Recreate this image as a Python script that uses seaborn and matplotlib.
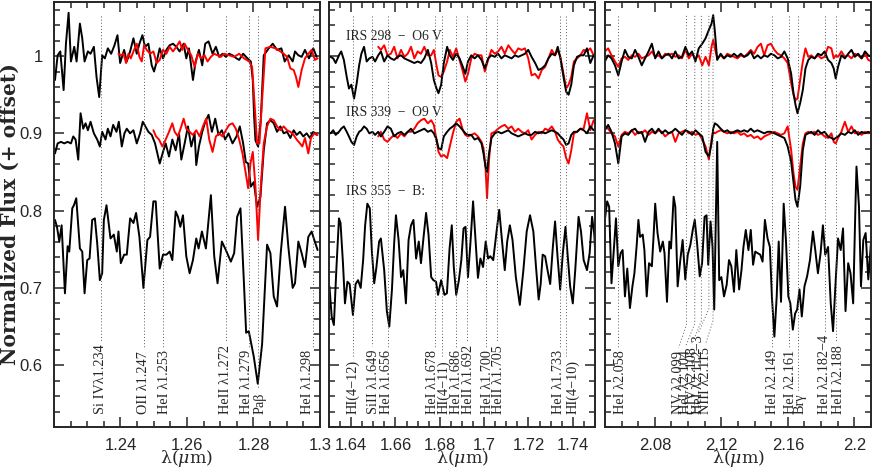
import matplotlib
matplotlib.use("Agg")
import matplotlib.pyplot as plt
import seaborn as sns
from matplotlib.ticker import MultipleLocator

# ---- J band panel (IRS 298 / 339 / 355 and models) ----
j_w298 = [1.2203, 1.2211, 1.2219, 1.2229, 1.2236, 1.2244, 1.2251, 1.2261, 1.2268, 1.2278,
          1.2285, 1.2292, 1.2302, 1.2310, 1.2320, 1.2328, 1.2336, 1.2345, 1.2353, 1.2362,
          1.2372, 1.2382, 1.2391, 1.2399, 1.2411, 1.2419, 1.2429, 1.2439, 1.2449, 1.2457,
          1.2466, 1.2474, 1.2484, 1.2494, 1.2501, 1.2509, 1.2518, 1.2528, 1.2538, 1.2548,
          1.2558, 1.2568, 1.2578, 1.2590, 1.2598, 1.2606, 1.2618, 1.2626, 1.2636, 1.2646,
          1.2655, 1.2665, 1.2677, 1.2687, 1.2697, 1.2707, 1.2717, 1.2727, 1.2737, 1.2749,
          1.2757, 1.2769, 1.2782, 1.2792, 1.2798, 1.2802, 1.2806, 1.2814, 1.2822, 1.2831,
          1.2846, 1.2858, 1.2871, 1.2884, 1.2894, 1.2906, 1.2918, 1.2925, 1.2935, 1.2945,
          1.2955, 1.2967, 1.2980, 1.2990]
j_f298 = [0.969, 1.001, 1.006, 0.956, 1.016, 1.056, 0.993, 1.012, 0.993, 1.042,
          1.023, 0.993, 1.006, 1.003, 1.012, 0.973, 0.947, 1.001, 0.997, 1.010,
          1.003, 1.014, 1.027, 0.991, 1.008, 0.993, 1.006, 1.023, 1.003, 1.016,
          1.027, 1.012, 1.016, 0.988, 0.980, 0.993, 1.010, 0.997, 1.008, 1.014,
          1.016, 1.012, 1.006, 1.016, 0.997, 1.010, 0.969, 0.993, 1.008, 0.988,
          1.016, 1.019, 1.003, 1.012, 0.999, 1.003, 0.999, 1.003, 1.001, 0.997,
          0.995, 1.003, 0.997, 0.993, 0.969, 0.922, 0.891, 0.883, 0.917, 1.001,
          1.010, 1.016, 1.008, 1.010, 0.993, 1.001, 0.993, 1.006, 1.001, 0.999,
          1.008, 0.997, 1.010, 0.999]
j_w298m = [1.2394, 1.2401, 1.2409, 1.2417, 1.2424, 1.2431, 1.2439, 1.2449, 1.2457, 1.2464,
           1.2471, 1.2479, 1.2489, 1.2499, 1.2509, 1.2518, 1.2528, 1.2538, 1.2548, 1.2558,
           1.2568, 1.2578, 1.2586, 1.2593, 1.2603, 1.2613, 1.2623, 1.2633, 1.2643, 1.2653,
           1.2662, 1.2672, 1.2682, 1.2692, 1.2702, 1.2712, 1.2727, 1.2742, 1.2757, 1.2772,
           1.2787, 1.2796, 1.2804, 1.2811, 1.2818, 1.2826, 1.2836, 1.2851, 1.2866, 1.2881,
           1.2891, 1.2901, 1.2911, 1.2921, 1.2928, 1.2935, 1.2945, 1.2955, 1.2965, 1.2975,
           1.2985, 1.2993]
j_f298m = [1.003, 1.001, 1.003, 0.991, 1.003, 0.997, 1.006, 1.016, 0.999, 0.993,
           1.014, 1.008, 1.003, 1.006, 0.991, 0.995, 1.008, 1.003, 1.012, 1.006,
           1.012, 1.019, 1.008, 1.016, 1.008, 1.001, 0.986, 1.003, 0.997, 1.001,
           0.993, 0.999, 1.003, 1.001, 0.999, 1.003, 1.001, 0.999, 1.003, 0.997,
           0.993, 0.986, 0.934, 0.887, 0.887, 0.943, 1.010, 1.012, 1.010, 1.006,
           1.003, 0.999, 0.984, 0.982, 0.973, 0.960, 0.982, 0.997, 1.003, 1.008,
           0.995, 0.997]
j_w339 = [1.2203, 1.2211, 1.2221, 1.2231, 1.2241, 1.2251, 1.2258, 1.2265, 1.2273, 1.2280,
          1.2288, 1.2295, 1.2302, 1.2310, 1.2320, 1.2330, 1.2338, 1.2345, 1.2355, 1.2362,
          1.2370, 1.2378, 1.2388, 1.2395, 1.2404, 1.2412, 1.2419, 1.2429, 1.2439, 1.2449,
          1.2459, 1.2467, 1.2475, 1.2484, 1.2494, 1.2504, 1.2511, 1.2518, 1.2528, 1.2536,
          1.2546, 1.2556, 1.2566, 1.2576, 1.2583, 1.2593, 1.2603, 1.2613, 1.2623, 1.2628,
          1.2636, 1.2646, 1.2655, 1.2665, 1.2675, 1.2685, 1.2695, 1.2705, 1.2715, 1.2725,
          1.2737, 1.2749, 1.2759, 1.2769, 1.2777, 1.2784, 1.2792, 1.2801, 1.2811, 1.2821,
          1.2831, 1.2841, 1.2851, 1.2861, 1.2871, 1.2881, 1.2891, 1.2901, 1.2911, 1.2921,
          1.2930, 1.2940, 1.2950, 1.2960, 1.2970, 1.2980, 1.2990]
j_f339 = [0.874, 0.887, 0.889, 0.887, 0.889, 0.887, 0.896, 0.892, 0.866, 0.926,
          0.906, 0.913, 0.904, 0.915, 0.900, 0.892, 0.883, 0.902, 0.892, 0.906,
          0.896, 0.911, 0.902, 0.915, 0.883, 0.900, 0.906, 0.900, 0.904, 0.887,
          0.900, 0.915, 0.909, 0.902, 0.898, 0.887, 0.874, 0.861, 0.876, 0.887,
          0.870, 0.892, 0.878, 0.900, 0.866, 0.887, 0.909, 0.883, 0.900, 0.859,
          0.883, 0.902, 0.915, 0.924, 0.902, 0.919, 0.898, 0.904, 0.892, 0.900,
          0.887, 0.896, 0.909, 0.887, 0.863, 0.861, 0.831, 0.837, 0.805, 0.818,
          0.878, 0.913, 0.917, 0.913, 0.902, 0.909, 0.900, 0.902, 0.894, 0.904,
          0.898, 0.902, 0.896, 0.900, 0.894, 0.902, 0.898]
j_w339m = [1.2499, 1.2507, 1.2516, 1.2526, 1.2536, 1.2546, 1.2556, 1.2563, 1.2573, 1.2583,
           1.2590, 1.2598, 1.2608, 1.2618, 1.2628, 1.2638, 1.2648, 1.2658, 1.2667, 1.2677,
           1.2687, 1.2697, 1.2707, 1.2717, 1.2727, 1.2737, 1.2747, 1.2757, 1.2767, 1.2777,
           1.2784, 1.2791, 1.2798, 1.2806, 1.2814, 1.2822, 1.2831, 1.2841, 1.2851, 1.2861,
           1.2871, 1.2881, 1.2891, 1.2901, 1.2911, 1.2921, 1.2930, 1.2940, 1.2947, 1.2955,
           1.2965, 1.2973, 1.2983, 1.2993]
j_f339m = [0.904, 0.896, 0.892, 0.883, 0.892, 0.902, 0.913, 0.902, 0.896, 0.909,
           0.919, 0.906, 0.902, 0.898, 0.904, 0.896, 0.909, 0.919, 0.892, 0.876,
           0.896, 0.900, 0.896, 0.904, 0.911, 0.913, 0.906, 0.892, 0.874, 0.848,
           0.829, 0.861, 0.876, 0.831, 0.762, 0.831, 0.887, 0.909, 0.919, 0.917,
           0.909, 0.904, 0.909, 0.904, 0.902, 0.898, 0.892, 0.887, 0.883, 0.894,
           0.874, 0.894, 0.900, 0.898]
j_w355 = [1.2203, 1.2209, 1.2216, 1.2223, 1.2233, 1.2241, 1.2246, 1.2255, 1.2260, 1.2267,
          1.2278, 1.2285, 1.2292, 1.2300, 1.2307, 1.2315, 1.2323, 1.2330, 1.2338, 1.2345,
          1.2350, 1.2358, 1.2370, 1.2380, 1.2389, 1.2394, 1.2401, 1.2411, 1.2419, 1.2429,
          1.2439, 1.2447, 1.2457, 1.2469, 1.2481, 1.2489, 1.2499, 1.2506, 1.2518, 1.2528,
          1.2538, 1.2548, 1.2556, 1.2566, 1.2573, 1.2580, 1.2588, 1.2598, 1.2608, 1.2618,
          1.2628, 1.2635, 1.2645, 1.2657, 1.2672, 1.2682, 1.2692, 1.2705, 1.2717, 1.2732,
          1.2742, 1.2751, 1.2761, 1.2771, 1.2778, 1.2786, 1.2801, 1.2813, 1.2826, 1.2841,
          1.2851, 1.2861, 1.2871, 1.2882, 1.2895, 1.2905, 1.2918, 1.2925, 1.2935, 1.2945,
          1.2955, 1.2965, 1.2975, 1.2980, 1.2993]
j_f355 = [0.788, 0.779, 0.760, 0.781, 0.693, 0.754, 0.747, 0.803, 0.807, 0.816,
          0.751, 0.747, 0.693, 0.736, 0.738, 0.788, 0.790, 0.758, 0.710, 0.719,
          0.788, 0.807, 0.764, 0.769, 0.747, 0.773, 0.732, 0.743, 0.743, 0.790,
          0.784, 0.797, 0.766, 0.700, 0.762, 0.766, 0.812, 0.812, 0.725, 0.743,
          0.743, 0.747, 0.736, 0.799, 0.792, 0.779, 0.794, 0.741, 0.719, 0.736,
          0.764, 0.751, 0.773, 0.751, 0.820, 0.741, 0.706, 0.760, 0.749, 0.734,
          0.745, 0.792, 0.803, 0.710, 0.642, 0.644, 0.611, 0.576, 0.627, 0.756,
          0.745, 0.689, 0.676, 0.745, 0.805, 0.753, 0.700, 0.706, 0.760, 0.745,
          0.727, 0.766, 0.773, 0.766, 0.749]

# ---- H band panel ----
h_wave = [1.6307, 1.6319, 1.6330, 1.6345, 1.6355, 1.6367, 1.6380, 1.6390, 1.6401, 1.6413,
          1.6425, 1.6436, 1.6446, 1.6458, 1.6470, 1.6482, 1.6496, 1.6508,
          1.6522, 1.6534, 1.6549, 1.6564, 1.6579, 1.6594, 1.6609, 1.6625, 1.6640, 1.6655,
          1.6670, 1.6685, 1.6700, 1.6715, 1.6730, 1.6746, 1.6761,
          1.6773, 1.6785, 1.6794, 1.6806, 1.6818,
          1.6833, 1.6845, 1.6859, 1.6874, 1.6889, 1.6904, 1.6915, 1.6927,
          1.6942, 1.6957, 1.6972, 1.6988, 1.7003, 1.7018, 1.7033, 1.7048, 1.7063, 1.7078,
          1.7093, 1.7109, 1.7124, 1.7139, 1.7154, 1.7169, 1.7184, 1.7199, 1.7214, 1.7230,
          1.7245, 1.7260, 1.7275, 1.7290, 1.7305, 1.7320,
          1.7332, 1.7344, 1.7358, 1.7370, 1.7381, 1.7393, 1.7405,
          1.7419, 1.7434, 1.7449, 1.7464, 1.7479, 1.7494, 1.7509]
h_f298 = [0.999, 0.997, 0.991, 1.001, 1.006, 0.995, 0.973, 0.958, 0.963, 0.945,
          0.965, 0.988, 1.003, 1.012, 0.993, 0.997, 0.999, 0.993,
          1.001, 1.006, 0.993, 1.001, 0.997, 0.995, 0.999, 1.001, 0.997, 0.995,
          0.993, 0.991, 0.993, 0.991, 0.997, 1.008, 0.991,
          0.969, 0.958, 0.952, 0.963, 0.991,
          1.012, 1.001, 0.995, 1.003, 0.997, 0.986, 0.977, 0.993,
          1.001, 0.997, 1.001, 0.995, 0.984, 0.997, 1.001, 0.999, 1.003, 0.997,
          1.001, 0.999, 0.997, 1.001, 0.999, 1.001, 1.003, 1.008, 0.999, 0.991,
          0.982, 0.984, 0.988, 0.997, 1.003, 1.001,
          1.012, 0.997, 0.973, 0.954, 0.950, 0.963, 0.988,
          0.999, 1.001, 1.001, 1.010, 0.991, 1.001, 0.997]
h_wave_mod = h_wave[18:]
h_f298m = [1.012, 1.008, 1.014, 1.001, 1.003, 1.012, 0.997, 1.008, 0.999, 1.003,
           1.012, 0.997, 1.006, 1.003, 1.012, 1.001, 1.001,
           1.008, 0.988, 0.975, 0.973, 0.980,
           0.993, 1.008, 0.999, 1.010, 0.995, 0.980, 0.967, 0.977,
           0.997, 1.003, 1.001, 1.001, 0.980, 0.995, 1.008, 1.003, 1.006, 1.012,
           1.003, 1.014, 1.008, 1.003, 1.010, 1.008, 1.010, 0.997, 0.975, 0.977,
           0.971, 0.982, 0.986, 0.997, 1.008, 1.001,
           1.008, 0.999, 0.977, 0.958, 0.963, 0.973, 0.993,
           0.997, 1.001, 1.008, 1.006, 1.010, 1.001, 0.995]
h_wave_mid = (h_wave[:51] + [1.6988, 1.6997, 1.7006, 1.7013, 1.7022, 1.7033]
              + h_wave[55:])
h_f339 = [0.900, 0.904, 0.898, 0.902, 0.906, 0.909, 0.902, 0.896, 0.889, 0.885,
          0.896, 0.902, 0.904, 0.909, 0.906, 0.900, 0.902, 0.898,
          0.902, 0.896, 0.902, 0.909, 0.906, 0.896, 0.900, 0.902, 0.898, 0.902,
          0.906, 0.900, 0.902, 0.904, 0.906, 0.902, 0.904,
          0.900, 0.892, 0.881, 0.879, 0.896,
          0.902, 0.906, 0.909, 0.913, 0.909, 0.904, 0.900, 0.898,
          0.898, 0.892, 0.894, 0.887, 0.874, 0.857, 0.850, 0.874, 0.894,
          0.900, 0.902, 0.900, 0.902, 0.904, 0.900, 0.898, 0.896, 0.898, 0.900,
          0.898, 0.898, 0.902, 0.900, 0.902, 0.900, 0.902, 0.904, 0.902,
          0.900, 0.896, 0.892, 0.885, 0.887, 0.898, 0.902,
          0.902, 0.906, 0.904, 0.900, 0.909, 0.904, 0.906]
h_wave_mid_mod = h_wave_mid[18:]
h_f339m = [0.896, 0.902, 0.892, 0.889, 0.894, 0.898, 0.894, 0.900, 0.896, 0.902,
           0.902, 0.906, 0.913, 0.917, 0.919, 0.913, 0.917,
           0.911, 0.892, 0.876, 0.870, 0.872,
           0.868, 0.883, 0.900, 0.915, 0.919, 0.904, 0.898, 0.896,
           0.898, 0.900, 0.896, 0.889, 0.881, 0.857, 0.816, 0.866, 0.900,
           0.902, 0.906, 0.909, 0.911, 0.906, 0.909, 0.902, 0.906, 0.902, 0.900,
           0.904, 0.892, 0.898, 0.902, 0.900, 0.906, 0.904, 0.909, 0.902,
           0.892, 0.887, 0.883, 0.868, 0.861, 0.878, 0.900,
           0.902, 0.906, 0.906, 0.926, 0.904, 0.917, 0.909]
h_w355 = [1.6302, 1.6312, 1.6322, 1.6333, 1.6345, 1.6352, 1.6363, 1.6372, 1.6383, 1.6393,
          1.6408, 1.6420, 1.6431, 1.6443, 1.6454, 1.6463, 1.6473, 1.6484, 1.6493, 1.6504,
          1.6514, 1.6526, 1.6534, 1.6549, 1.6561, 1.6572, 1.6584, 1.6594, 1.6602, 1.6614,
          1.6625, 1.6635, 1.6647, 1.6659, 1.6670, 1.6681, 1.6693, 1.6705, 1.6715, 1.6726,
          1.6738, 1.6749, 1.6761, 1.6771, 1.6783, 1.6792, 1.6806, 1.6821, 1.6832, 1.6844,
          1.6854, 1.6863, 1.6874, 1.6886, 1.6897, 1.6907, 1.6916, 1.6927, 1.6938, 1.6950,
          1.6962, 1.6972, 1.6983, 1.6995, 1.7007, 1.7018, 1.7028, 1.7041, 1.7056, 1.7068,
          1.7078, 1.7093, 1.7104, 1.7116, 1.7128, 1.7143, 1.7161, 1.7177, 1.7192, 1.7207,
          1.7222, 1.7234, 1.7246, 1.7255, 1.7264, 1.7275, 1.7286, 1.7298, 1.7310, 1.7320,
          1.7331, 1.7343, 1.7355, 1.7367, 1.7376, 1.7388, 1.7400, 1.7411, 1.7426, 1.7437,
          1.7449, 1.7464, 1.7476, 1.7487, 1.7497, 1.7506]
h_f355 = [0.702, 0.663, 0.652, 0.723, 0.790, 0.784, 0.732, 0.680, 0.708, 0.705,
          0.665, 0.705, 0.710, 0.700, 0.736, 0.781, 0.809, 0.803, 0.749, 0.706,
          0.727, 0.760, 0.764, 0.723, 0.670, 0.650, 0.698, 0.758, 0.794, 0.762,
          0.714, 0.723, 0.680, 0.762, 0.781, 0.788, 0.738, 0.760, 0.732, 0.764,
          0.797, 0.769, 0.714, 0.710, 0.708, 0.691, 0.710, 0.691, 0.693, 0.751,
          0.781, 0.727, 0.691, 0.710, 0.736, 0.777, 0.779, 0.714, 0.758, 0.812,
          0.758, 0.713, 0.738, 0.727, 0.760, 0.738, 0.741, 0.736, 0.773, 0.801,
          0.769, 0.723, 0.760, 0.781, 0.762, 0.714, 0.678, 0.723, 0.773, 0.794,
          0.773, 0.727, 0.685, 0.705, 0.743, 0.741, 0.723, 0.705, 0.753, 0.786,
          0.741, 0.698, 0.745, 0.779, 0.745, 0.702, 0.680, 0.723, 0.792, 0.773,
          0.736, 0.723, 0.745, 0.792, 0.769, 0.719]

# ---- K band panel ----
k_wave = [2.0499, 2.0519, 2.0539, 2.0560, 2.0580, 2.0600, 2.0620, 2.0640, 2.0661, 2.0681,
          2.0701, 2.0721, 2.0741, 2.0762, 2.0782, 2.0802, 2.0822, 2.0842, 2.0862, 2.0883,
          2.0903, 2.0923, 2.0943, 2.0963, 2.0984, 2.1004, 2.1024, 2.1044, 2.1064, 2.1085,
          2.1105, 2.1125, 2.1141, 2.1151, 2.1161,
          2.1175, 2.1196, 2.1216, 2.1236, 2.1256, 2.1276, 2.1297, 2.1317, 2.1337, 2.1357,
          2.1377, 2.1397, 2.1418, 2.1438, 2.1458, 2.1478, 2.1498, 2.1519, 2.1539, 2.1559,
          2.1579, 2.1599,
          2.1620, 2.1634, 2.1646, 2.1658, 2.1674, 2.1690, 2.1706, 2.1723,
          2.1741, 2.1761, 2.1781, 2.1801, 2.1821, 2.1842, 2.1862, 2.1876, 2.1888,
          2.1902, 2.1922, 2.1943, 2.1963, 2.1983, 2.2003, 2.2023, 2.2044, 2.2064, 2.2084,
          2.2104]
k_f298 = [0.993, 1.001, 0.997, 0.988, 0.975, 0.993, 1.008, 0.999, 0.997, 1.008,
          0.999, 0.988, 0.997, 1.006, 1.016, 0.997, 1.006, 0.997, 1.001, 1.003,
          0.997, 1.006, 0.997, 0.999, 1.012, 1.001, 1.006, 0.993, 1.010, 1.016,
          1.023, 1.034, 1.042, 1.053, 1.032,
          0.995, 1.003, 0.997, 1.001, 0.999, 1.003, 0.999, 1.003, 0.999, 1.001,
          1.006, 0.997, 1.001, 0.997, 1.001, 0.999, 1.003, 1.001, 0.997, 0.999,
          1.006, 0.997,
          0.977, 0.952, 0.937, 0.926, 0.939, 0.956, 0.984, 0.995,
          0.999, 0.997, 1.003, 1.001, 1.006, 0.995, 0.991, 0.984, 0.971,
          0.986, 1.001, 0.997, 1.003, 1.008, 0.999, 1.003, 0.997, 1.006, 1.001,
          0.999]
k_f298m = [1.006, 1.010, 1.001, 0.993, 0.986, 0.997, 0.999, 0.995, 1.001, 0.999,
           1.003, 0.997, 0.999, 1.001, 1.006, 0.999, 1.001, 0.997, 1.003, 1.001,
           1.003, 0.999, 1.001, 0.997, 1.008, 0.997, 1.003, 0.997, 1.001, 0.988,
           0.999, 0.988, 1.012, 1.021, 1.010,
           0.997, 1.001, 0.997, 1.003, 1.001, 0.999, 0.997, 1.001, 0.999, 1.003,
           1.008, 1.003, 1.012, 1.016, 1.001, 1.014, 1.016, 1.008, 1.003, 1.001,
           0.997, 0.991,
           0.965, 0.950, 0.943, 0.945, 0.969, 0.993, 1.010, 0.999,
           1.001, 0.997, 1.001, 0.997, 0.999, 1.012, 1.010, 0.997, 1.001,
           0.999, 1.006, 0.999, 1.001, 0.997, 1.003, 1.001, 0.997, 1.003, 0.995,
           0.993]
k_f339 = [0.904, 0.911, 0.902, 0.887, 0.861, 0.896, 0.900, 0.898, 0.904, 0.906,
          0.900, 0.902, 0.889, 0.902, 0.906, 0.900, 0.906, 0.900, 0.904, 0.900,
          0.902, 0.906, 0.902, 0.898, 0.904, 0.902, 0.898, 0.904, 0.900, 0.896,
          0.876, 0.870, 0.887, 0.906, 0.913,
          0.911, 0.906, 0.902, 0.904, 0.900, 0.902, 0.904, 0.902, 0.904, 0.902,
          0.906, 0.902, 0.904, 0.902, 0.900, 0.902, 0.902, 0.900, 0.898, 0.896,
          0.894, 0.883,
          0.863, 0.837, 0.814, 0.805, 0.831, 0.878, 0.898, 0.900,
          0.902, 0.898, 0.904, 0.900, 0.902, 0.896, 0.894, 0.892, 0.894,
          0.896, 0.900, 0.898, 0.902, 0.900, 0.904, 0.898, 0.902, 0.900, 0.902,
          0.900]
k_f339m = [0.909, 0.906, 0.900, 0.896, 0.883, 0.898, 0.902, 0.900, 0.904, 0.898,
           0.902, 0.900, 0.904, 0.898, 0.902, 0.900, 0.904, 0.902, 0.896, 0.900,
           0.902, 0.889, 0.900, 0.902, 0.904, 0.900, 0.902, 0.898, 0.900, 0.892,
           0.883, 0.866, 0.892, 0.902, 0.900,
           0.902, 0.904, 0.902, 0.900, 0.902, 0.900, 0.902, 0.898, 0.900, 0.896,
           0.898, 0.894, 0.896, 0.892, 0.896, 0.898, 0.900, 0.902, 0.900, 0.898,
           0.900, 0.909,
           0.878, 0.848, 0.831, 0.827, 0.857, 0.887, 0.900, 0.902,
           0.900, 0.902, 0.898, 0.900, 0.896, 0.894, 0.900, 0.889, 0.887,
           0.894, 0.902, 0.915, 0.902, 0.909, 0.900, 0.902, 0.898, 0.902, 0.900,
           0.902]
k_w355 = [2.0499, 2.0513, 2.0525, 2.0539, 2.0553, 2.0566, 2.0580, 2.0594, 2.0606, 2.0620,
          2.0634, 2.0650, 2.0665, 2.0677, 2.0691, 2.0701, 2.0711, 2.0727, 2.0737, 2.0751,
          2.0765, 2.0782, 2.0792, 2.0802, 2.0816, 2.0832, 2.0848, 2.0858, 2.0873, 2.0887,
          2.0897, 2.0913, 2.0923, 2.0937, 2.0953, 2.0967, 2.0983, 2.0998, 2.1014, 2.1028,
          2.1040, 2.1054, 2.1070, 2.1084, 2.1099, 2.1111, 2.1121, 2.1135, 2.1147, 2.1157,
          2.1175, 2.1187, 2.1200, 2.1216, 2.1232, 2.1246, 2.1260, 2.1276, 2.1290, 2.1307,
          2.1321, 2.1333, 2.1347, 2.1363, 2.1377, 2.1391, 2.1404, 2.1418, 2.1434, 2.1448,
          2.1462, 2.1478, 2.1492, 2.1504, 2.1519, 2.1533, 2.1545, 2.1559, 2.1575, 2.1589,
          2.1603, 2.1615, 2.1630, 2.1644, 2.1656, 2.1670, 2.1684, 2.1700, 2.1716, 2.1733,
          2.1751, 2.1765, 2.1781, 2.1797, 2.1811, 2.1825, 2.1842, 2.1858, 2.1872, 2.1886,
          2.1902, 2.1918, 2.1932, 2.1947, 2.1963, 2.1977, 2.1993, 2.2007, 2.2013, 2.2028,
          2.2040, 2.2054, 2.2068, 2.2084, 2.2100]
k_f355 = [0.788, 0.812, 0.805, 0.706, 0.749, 0.790, 0.728, 0.745, 0.749, 0.689,
          0.725, 0.674, 0.702, 0.719, 0.756, 0.788, 0.766, 0.769, 0.749, 0.689,
          0.732, 0.728, 0.766, 0.809, 0.771, 0.747, 0.760, 0.745, 0.682, 0.760,
          0.751, 0.818, 0.805, 0.702, 0.736, 0.762, 0.711, 0.743, 0.756, 0.775,
          0.788, 0.758, 0.715, 0.732, 0.792, 0.794, 0.730, 0.786, 0.753, 0.672,
          0.889, 0.710, 0.714, 0.689, 0.704, 0.736, 0.728, 0.695, 0.749, 0.698,
          0.723, 0.753, 0.775, 0.749, 0.775, 0.730, 0.747, 0.745, 0.743, 0.734,
          0.788, 0.764, 0.753, 0.689, 0.637, 0.689, 0.760, 0.682, 0.809, 0.760,
          0.689, 0.680, 0.646, 0.667, 0.672, 0.698, 0.663, 0.702, 0.715, 0.736,
          0.773, 0.749, 0.719, 0.745, 0.781, 0.743, 0.753, 0.680, 0.644, 0.702,
          0.764, 0.749, 0.777, 0.670, 0.732, 0.719, 0.680, 0.809, 0.857, 0.805,
          0.702, 0.762, 0.771, 0.711, 0.758]

# line identifications: (line wavelength, label position, label, bent connector)
j_marks = [(1.2340, 1.2341, "Si IVλ1.234", False),
           (1.2470, 1.2469, "OII λ1.247", False),
           (1.2527, 1.2532, "HeI λ1.253", False),
           (1.2717, 1.2715, "HeII λ1.272", False),
           (1.2787, 1.2779, "HeI λ1.279", False),
           (1.2815, 1.2821, "Paβ", False),
           (1.2980, 1.2963, "HeI λ1.298", False)]
h_marks = [(1.6410, 1.6409, "HI(4−12)", False),
           (1.6496, 1.6499, "SiII λ1.649", False),
           (1.6564, 1.6558, "HeI λ1.656", False),
           (1.6780, 1.6765, "HeI λ1.678", False),
           (1.6809, 1.6816, "HI(4−11)", False),
           (1.6874, 1.6874, "HeI λ1.686", False),
           (1.6923, 1.6929, "HeII λ1.692", False),
           (1.7010, 1.7013, "HeI λ1.700", False),
           (1.7059, 1.7065, "HeII λ1.705", False),
           (1.7343, 1.7337, "HeI λ1.733", False),
           (1.7370, 1.7399, "HI(4−10)", False)]
k_marks = [(2.0580, 2.0594, "HeI λ2.058", False),
           (2.0990, 2.0943, "NV λ2.099", True),
           (2.1040, 2.0984, "HeI λ2.104", True),
           (2.1080, 2.1024, "CIV λ2.108", True),
           (2.1125, 2.1064, "HeI λ2.112−3", True),
           (2.1150, 2.1105, "NIII λ2.115", True),
           (2.1502, 2.1508, "HeI λ2.149", False),
           (2.1609, 2.1618, "HeI λ2.161", False),
           (2.1660, 2.1674, "Brγ", False),
           (2.1823, 2.1821, "HeI λ2.182−4", False),
           (2.1888, 2.1906, "HeII λ2.188", False)]

star_names = ["IRS 298  −  O6 V", "IRS 339  −  O9 V", "IRS 355  −  B:"]
star_y = [1.025, 0.927, 0.825]

sns.set_style("ticks")
plt.rcParams["font.family"] = ["Liberation Sans", "DejaVu Sans"]
plt.rcParams["mathtext.fontset"] = "dejavuserif"

fig = plt.figure(figsize=(8.72, 4.71), dpi=100)
lefts = [0.0619, 0.3773, 0.6938]
axes = [fig.add_axes([l, 0.0934, 0.3050, 0.9024]) for l in lefts]

panels = [
    (axes[0], [(j_w298, j_f298, "k"), (j_w298m, j_f298m, "r"), (j_w339, j_f339, "k"),
               (j_w339m, j_f339m, "r"), (j_w355, j_f355, "k")],
     (1.22, 1.30), [1.24, 1.26, 1.28, 1.30], ["1.24", "1.26", "1.28", "1.3"], 0.005, j_marks),
    (axes[1], [(h_wave_mod, h_f298m, "r"), (h_wave, h_f298, "k"), (h_wave_mid_mod, h_f339m, "r"),
               (h_wave_mid, h_f339, "k"), (h_w355, h_f355, "k")],
     (1.63, 1.75), [1.64, 1.66, 1.68, 1.70, 1.72, 1.74],
     ["1.64", "1.66", "1.68", "1.7", "1.72", "1.74"], 0.005, h_marks),
    (axes[2], [(k_wave, k_f298m, "r"), (k_wave, k_f298, "k"), (k_wave, k_f339m, "r"),
               (k_wave, k_f339, "k"), (k_w355, k_f355, "k")],
     (2.05, 2.21), [2.08, 2.12, 2.16, 2.20], ["2.08", "2.12", "2.16", "2.2"], 0.01, k_marks),
]

label_font = dict(family="Liberation Serif", fontsize=10.3)
texts = []
for i, (ax, series, xlim, xt, xtl, minor, marks) in enumerate(panels):
    for w, f, c in series:
        sns.lineplot(x=w, y=f, ax=ax, color=c, lw=1.4, sort=False, estimator=None, legend=False)
    ax.set_xlim(*xlim)
    ax.set_ylim(0.52, 1.07)
    ax.set_xticks(xt, labels=xtl)
    ax.xaxis.set_minor_locator(MultipleLocator(minor))
    ax.set_yticks([0.6, 0.7, 0.8, 0.9, 1.0], labels=["0.6", "0.7", "0.8", "0.9", "1"])
    ax.yaxis.set_minor_locator(MultipleLocator(0.02))
    ax.tick_params(which="both", direction="in", top=True, right=True, width=1.1,
                   labelsize=12, labelleft=(i == 0))
    ax.tick_params(which="major", length=7)
    ax.tick_params(which="minor", length=4)
    ax.tick_params(axis="x", pad=8)
    ax.tick_params(axis="y", pad=8)
    for s in ax.spines.values():
        s.set_linewidth(1.4)
    ax.set_xlabel("")
    ax.set_ylabel("")
    ax.text(0.5, -0.074, r"λ($\mu$m)", transform=ax.transAxes, ha="center", va="center",
            family="DejaVu Serif", fontsize=12.5)
    for lam, xlab, lab, bent in marks:
        t = ax.text(xlab, 0.537, lab, rotation=90, ha="center", va="bottom", **label_font)
        texts.append((ax, t, lam, xlab, bent))

for name, y in zip(star_names, star_y):
    axes[1].text(1.6378, y, name, ha="left", va="center", family="Liberation Serif", fontsize=9.8)

fig.text(0.011, 0.5446, "Normalized Flux (+ offset)", rotation=90, ha="center", va="center",
         family="DejaVu Serif", fontsize=14.6, fontweight="bold")

# dotted guide lines from the top down to each label
fig.canvas.draw()
renderer = fig.canvas.get_renderer()
for ax, t, lam, xlab, bent in texts:
    bb = t.get_window_extent(renderer)
    top = ax.transData.inverted().transform((bb.x0, bb.y1))[1] + 0.004
    style = dict(color="0.35", lw=0.7, linestyle=(0, (1, 2.2)))
    if bent:
        ax.plot([lam, lam, xlab], [1.052, top + 0.03, top], **style)
    else:
        ax.plot([lam, lam], [1.052, top], **style)

fig.savefig("out.png", dpi=100)
